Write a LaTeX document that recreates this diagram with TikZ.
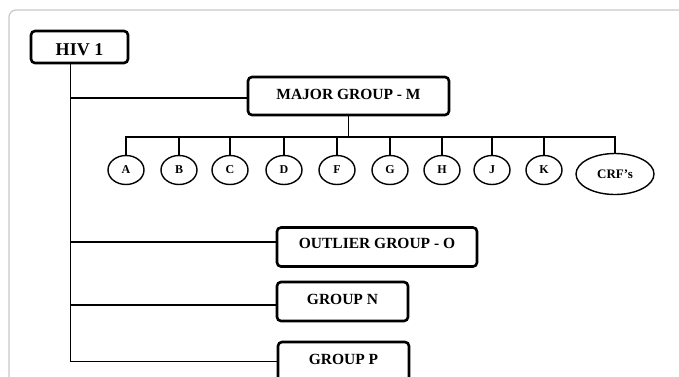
\documentclass[tikz,border=0pt]{standalone}
\usepackage{fontspec}
\setmainfont{Liberation Serif}
\usetikzlibrary{shapes.geometric}
\begin{document}
\begin{tikzpicture}[x=1pt,y=-1pt,
  gbox/.style={draw, line width=2.6pt, rounded corners=4pt, inner sep=0pt,
    font=\bfseries\fontsize{15.5}{18}\selectfont, text height=10.3pt, text depth=5pt},
  leaf/.style={draw, ellipse, line width=1.4pt, inner sep=0pt,
    minimum width=36pt, minimum height=29pt, font=\bfseries\fontsize{12}{14}\selectfont},
  conn/.style={line width=1.3pt},
  framestyle/.style={draw=black!22, line width=1.2pt, rounded corners=7pt}]
\useasboundingbox (0,0) rectangle (679,376);
\clip (0,0) rectangle (679,376);
% outer frame
\draw[framestyle] (700,10) -- (9,10) -- (9,400);
% boxes
\node[gbox, minimum width=97pt, minimum height=32pt, font=\bfseries\fontsize{18}{21}\selectfont,
      text height=17pt, text depth=0pt] (hiv) at (79.5,47) {HIV 1};
\node[gbox, minimum width=201pt, minimum height=38pt, text depth=4pt] (maj) at (348.5,96) {MAJOR GROUP - M};
\node[gbox, minimum width=200pt, minimum height=39pt, text depth=8pt] (out) at (377,247) {OUTLIER GROUP - O};
\node[gbox, minimum width=131pt, minimum height=39pt] (gn) at (342.5,301.5) {GROUP N};
\node[gbox, minimum width=131pt, minimum height=39pt, text depth=4pt] (gp) at (343.5,361.5) {GROUP P};
% subtypes
\node[leaf] (a) at (126,170) {A};
\node[leaf] (b) at (179,170) {B};
\node[leaf] (c) at (230,170) {C};
\node[leaf] (d) at (284,170) {D};
\node[leaf] (f) at (337,170) {F};
\node[leaf] (g) at (390,170) {G};
\node[leaf] (h) at (442,170) {H};
\node[leaf] (j) at (492,170) {J};
\node[leaf] (k) at (544,170) {K};
\node[leaf, minimum width=78pt, minimum height=41pt, font=\bfseries\fontsize{13}{15}\selectfont] (crf) at (615,174) {CRF’s};
% bus under major group
\coordinate (bus) at (348,137);
\draw[conn] (maj.south) -- (maj.south |- bus);
\draw[conn] (a.north) -- (a.north |- bus) -- (crf.north |- bus) -- (crf.north);
\foreach \n in {b,c,d,f,g,h,j,k} \draw[conn] (\n.north) -- (\n.north |- bus);
% trunk
\coordinate (tr) at (70.5,0);
\coordinate (m1) at (70.5,98);
\coordinate (o1) at (70.5,242);
\coordinate (n1) at (70.5,305);
\draw[conn] (hiv.south -| tr) -- (tr |- gp.west) -- (gp.west);
\draw[conn] (m1) -- (m1 -| maj.west);
\draw[conn] (o1) -- (o1 -| out.west);
\draw[conn] (n1) -- (n1 -| gn.west);
\end{tikzpicture}
\end{document}
